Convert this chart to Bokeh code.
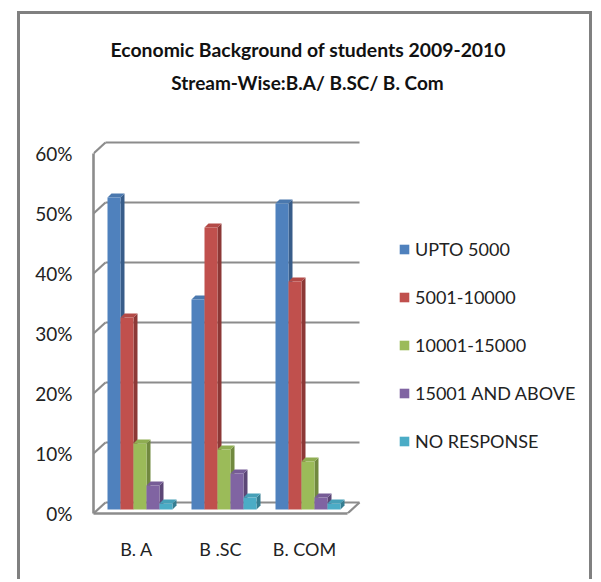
from bokeh.plotting import figure
from bokeh.embed import file_html
from bokeh.resources import INLINE
from bokeh.models import FixedTicker, Legend, LegendItem, Title, Range1d, Label

categories = ["B. A", "B .SC", "B. COM"]
series_names = ["UPTO 5000", "5001-10000", "10001-15000", "15001 AND ABOVE", "NO RESPONSE"]
upto_5000 = [52, 35, 51]
r_5001_10000 = [32, 47, 38]
r_10001_15000 = [11, 10, 8]
r_15001_above = [4, 6, 2]
no_response = [1, 2, 1]
y_ticks = [0, 10, 20, 30, 40, 50, 60]

all_series = [upto_5000, r_5001_10000, r_10001_15000, r_15001_above, no_response]
front_colors = ["#4F81BD", "#C0504D", "#9BBB59", "#8064A2", "#4BACC6"]
top_colors = ["#4A78AE", "#B34A47", "#8FAD52", "#765C96", "#46A0B8"]
side_colors = ["#385D8A", "#8C3836", "#71893F", "#5C4776", "#357D91"]
GRID = "#8C8C8C"
INK = "#222222"
FONT = "Lato"

# scale factors: one category = 84 px, one percent = 6 px
PXX = 1 / 84
PXY = 1 / 6
bar_w = 13 * PXX
bar_start = -29 * PXX
bar_base = 4 * PXY
depth_x = 4 * PXX
depth_y = 4 * PXY
wall_x = 12 * PXX
wall_y = 11 * PXY
floor_l = -43 * PXX
floor_r = 211 * PXX

BORDER = "3px solid #808080"
p = figure(width=575, height=568, output_backend="svg", toolbar_location=None,
           x_range=Range1d(-43 * PXX, 459 * PXX), y_range=Range1d(0, 74),
           min_border_left=73, min_border_right=0, min_border_top=55, min_border_bottom=69,
           margin=(11, 0, 0, 17),
           styles={"border-left": BORDER, "border-top": BORDER, "border-right": BORDER})
p.outline_line_color = None
p.xgrid.visible = False
p.ygrid.visible = False

# walls
p.segment([floor_l + wall_x] * 7, [t + wall_y for t in y_ticks],
          [floor_r + wall_x] * 7, [t + wall_y for t in y_ticks], line_color=GRID, line_width=2.2)
p.segment([floor_l] * 7, y_ticks, [floor_l + wall_x] * 7, [t + wall_y for t in y_ticks],
          line_color=GRID, line_width=2.2)
p.segment([floor_r], [0], [floor_r + wall_x], [wall_y], line_color=GRID, line_width=2.2)

# bars
items = []
for j, vals in enumerate(all_series):
    left = [i + bar_start + j * bar_w for i in range(3)]
    right = [l + bar_w for l in left]
    tops = [bar_base + v for v in vals]
    p.patches([[r, r + depth_x, r + depth_x, r] for r in right],
              [[bar_base, bar_base + depth_y, t + depth_y, t] for t in tops],
              fill_color=side_colors[j], line_color=None)
    p.patches([[l, l + depth_x, r + depth_x, r] for l, r in zip(left, right)],
              [[t, t + depth_y, t + depth_y, t] for t in tops],
              fill_color=top_colors[j], line_color=None)
    q = p.quad(left=left, right=right, bottom=[bar_base] * 3, top=tops,
               fill_color=front_colors[j], line_color=None)
    items.append(LegendItem(label=series_names[j], renderers=[q]))

# axes
ya = p.yaxis[0]
ya.ticker = FixedTicker(ticks=y_ticks)
ya.major_label_overrides = {t: f"{t}%" for t in y_ticks}
ya.bounds = (0, 60)
ya.axis_line_color = GRID
ya.axis_line_width = 2.6
ya.major_tick_line_color = None
ya.minor_tick_line_color = None
ya.major_label_standoff = 15
ya.major_label_text_font = FONT
ya.major_label_text_font_size = "19px"
ya.major_label_text_color = INK

xa = p.xaxis[0]
xa.ticker = FixedTicker(ticks=[0, 1, 2])
xa.major_label_overrides = {i: c for i, c in enumerate(categories)}
xa.bounds = (floor_l, floor_r)
xa.axis_line_color = GRID
xa.axis_line_width = 2.6
xa.major_tick_line_color = None
xa.minor_tick_line_color = None
xa.major_label_standoff = 18
xa.major_label_text_font = FONT
xa.major_label_text_font_size = "18px"
xa.major_label_text_color = INK

# legend
leg = Legend(items=items, location=(305, 61), background_fill_alpha=0, border_line_color=None,
             padding=0, margin=0, spacing=26, glyph_width=12, glyph_height=12, label_height=20,
             label_standoff=5, label_text_font=FONT, label_text_font_size="18px",
             label_text_color=INK, label_text_baseline="middle")
p.add_layout(leg, "center")

# titles
p.add_layout(Title(text="Economic Background of students 2009-2010", align="left", offset=17,
                   text_font=FONT, text_font_size="19.4px", text_font_style="bold",
                   text_color="#111111", standoff=17, vertical_align="bottom"), "above")
p.add_layout(Label(x=171 * PXX, y=71.8, text="Stream-Wise:B.A/ B.SC/ B. Com", text_align="center",
                   text_baseline="middle", text_font=FONT, text_font_size="19px",
                   text_font_style="bold", text_color="#111111"))

open("out.html", "w").write(file_html(p, INLINE))
